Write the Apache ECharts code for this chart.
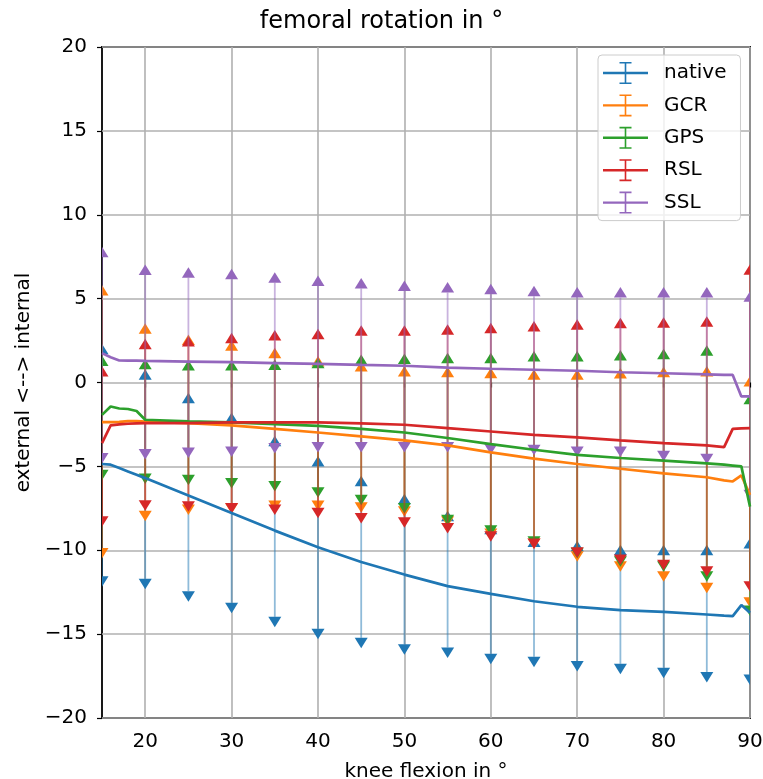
<!DOCTYPE html>
<html>
<head>
<meta charset="utf-8">
<title>femoral rotation</title>
<script src="https://cdn.jsdelivr.net/npm/echarts@6/dist/echarts.min.js"></script>
<style>
  html, body { margin: 0; padding: 0; background: #fff; }
  #chart { width: 763px; height: 779px; }
</style>
</head>
<body>
<div id="chart"></div>
<script>
// knee flexion angles where the error bars sit
const barX = [15, 20, 25, 30, 35, 40, 45, 50, 55, 60, 65, 70, 75, 80, 85, 90];

// error bar ends (upper / lower) per implant
const nativeHi = [1.69, 0.16, -1.23, -2.42, -3.8, -5.0, -6.19, -7.26, -8.27, -9.05, -9.8, -10.06, -10.3, -10.3, -10.3, -9.9];
const nativeLo = [-11.55, -11.7, -12.44, -13.13, -13.97, -14.68, -15.22, -15.6, -15.8, -16.17, -16.35, -16.6, -16.77, -17.0, -17.26, -17.4];
const gcrHi = [5.18, 2.9, 2.24, 1.89, 1.45, 0.95, 0.65, 0.36, 0.32, 0.26, 0.16, 0.16, 0.24, 0.32, 0.36, -0.24];
const gcrLo = [-9.86, -7.64, -7.28, -7.2, -7.04, -7.04, -7.14, -7.38, -7.98, -8.7, -9.3, -10.06, -10.65, -11.25, -11.94, -12.8];
const gpsHi = [0.99, 0.79, 0.71, 0.71, 0.75, 0.85, 1.05, 1.11, 1.15, 1.15, 1.25, 1.25, 1.31, 1.39, 1.59, -1.3];
const gpsLo = [-5.2, -5.43, -5.5, -5.7, -5.87, -6.25, -6.69, -7.18, -7.88, -8.51, -9.17, -9.85, -10.36, -10.65, -11.25, -13.3];
const rslHi = [0.36, 1.98, 2.14, 2.34, 2.5, 2.58, 2.78, 2.78, 2.84, 2.94, 3.04, 3.14, 3.23, 3.27, 3.33, 6.43];
const rslLo = [-7.98, -7.02, -7.08, -7.18, -7.28, -7.46, -7.78, -8.04, -8.37, -8.87, -9.3, -9.82, -10.26, -10.56, -10.95, -11.85];
const sslHi = [7.46, 6.41, 6.25, 6.15, 5.95, 5.75, 5.61, 5.46, 5.36, 5.26, 5.14, 5.06, 5.06, 5.06, 5.06, 4.82];
const sslLo = [-4.2, -3.97, -3.87, -3.81, -3.6, -3.55, -3.55, -3.55, -3.55, -3.67, -3.71, -3.81, -3.81, -4.07, -4.25, -6.4];

// mean curves
const lineX = [15, 16, 17, 18, 19, 20, 25, 30, 35, 40, 45, 50, 55, 60, 65, 70, 75, 80, 85, 87, 88, 89, 90];
const nativeMean = [-4.86, -4.9, -5.1, -5.3, -5.5, -5.7, -6.73, -7.78, -8.83, -9.82, -10.7, -11.45, -12.14, -12.6, -13.04, -13.37, -13.57, -13.67, -13.83, -13.9, -13.93, -13.27, -13.73];
const gcrMean = [-2.36, -2.36, -2.35, -2.3, -2.3, -2.33, -2.42, -2.56, -2.76, -2.98, -3.21, -3.45, -3.75, -4.17, -4.54, -4.86, -5.14, -5.42, -5.65, -5.83, -5.9, -5.54, -6.7];
const gpsMean = [-1.93, -1.43, -1.55, -1.58, -1.7, -2.22, -2.32, -2.38, -2.48, -2.58, -2.76, -2.98, -3.31, -3.67, -4.01, -4.31, -4.5, -4.66, -4.82, -4.9, -4.95, -5.0, -7.4];
const rslMean = [-3.61, -2.56, -2.5, -2.46, -2.44, -2.42, -2.42, -2.38, -2.38, -2.38, -2.44, -2.52, -2.72, -2.92, -3.12, -3.27, -3.45, -3.61, -3.75, -3.85, -2.76, -2.74, -2.72];
const sslMean = [1.75, 1.5, 1.31, 1.3, 1.3, 1.29, 1.25, 1.21, 1.16, 1.11, 1.05, 1.0, 0.89, 0.82, 0.76, 0.7, 0.61, 0.55, 0.49, 0.46, 0.45, -0.83, -0.83];

const xTicks = [20, 30, 40, 50, 60, 70, 80, 90];

const models = [
  { name: 'native', color: '#1f77b4', hi: nativeHi, lo: nativeLo, mean: nativeMean },
  { name: 'GCR', color: '#ff7f0e', hi: gcrHi, lo: gcrLo, mean: gcrMean },
  { name: 'GPS', color: '#2ca02c', hi: gpsHi, lo: gpsLo, mean: gpsMean },
  { name: 'RSL', color: '#d62728', hi: rslHi, lo: rslLo, mean: rslMean },
  { name: 'SSL', color: '#9467bd', hi: sslHi, lo: sslLo, mean: sslMean }
];

const FONT = 'DejaVu Sans';
// errorbar legend handle: thick horizontal line + capped vertical bar
const errIcon = 'path://M0,9.8L45,9.8L45,12.2L0,12.2Z M21.7,0L23.3,0L23.3,22L21.7,22Z M16.5,0L28.5,0L28.5,1.6L16.5,1.6Z M16.5,20.4L28.5,20.4L28.5,22L16.5,22Z';

function minusFmt(v) {
  return v < 0 ? '\u2212' + Math.abs(v) : String(v);
}

function errorBarRenderer(color) {
  return function (params, api) {
    const x = api.value(0);
    const lo = api.value(1);
    const hi = api.value(2);
    const top = api.coord([x, hi]);
    const bot = api.coord([x, lo]);
    const w = 6.5, h = 10.5;
    return {
      type: 'group',
      children: [
        {
          type: 'line',
          shape: { x1: top[0], y1: top[1], x2: bot[0], y2: bot[1] },
          style: { stroke: color, lineWidth: 1.8, opacity: 0.5 }
        },
        {
          type: 'polygon',
          shape: { points: [[top[0] - w, top[1]], [top[0] + w, top[1]], [top[0], top[1] - h]] },
          style: { fill: color }
        },
        {
          type: 'polygon',
          shape: { points: [[bot[0] - w, bot[1]], [bot[0] + w, bot[1]], [bot[0], bot[1] + h]] },
          style: { fill: color }
        }
      ]
    };
  };
}

const barSeries = models.map(m => ({
  name: m.name,
  type: 'custom',
  clip: true,
  z: 2,
  itemStyle: { color: m.color },
  encode: { x: 0, y: [1, 2] },
  data: barX.map((x, i) => [x, m.lo[i], m.hi[i]]),
  renderItem: errorBarRenderer(m.color)
}));

const lineSeries = models.map(m => ({
  name: m.name,
  type: 'line',
  clip: true,
  z: 3,
  showSymbol: false,
  symbol: 'none',
  color: m.color,
  lineStyle: { color: m.color, width: 2.7 },
  data: lineX.map((x, i) => [x, m.mean[i]])
}));

const chart = echarts.init(document.getElementById('chart'));
chart.setOption({
  animation: false,
  backgroundColor: '#fff',
  textStyle: { fontFamily: FONT },
  title: {
    text: 'femoral rotation in °',
    left: 'center',
    top: 5,
    textStyle: { fontFamily: FONT, fontSize: 24, fontWeight: 'normal', color: '#000' }
  },
  legend: {
    orient: 'vertical',
    left: 598,
    top: 55,
    padding: [7, 14, 7, 5],
    itemWidth: 45,
    itemHeight: 22,
    itemGap: 10.4,
    backgroundColor: 'rgba(255,255,255,0.8)',
    borderColor: '#cccccc',
    borderWidth: 1,
    borderRadius: 4,
    textStyle: { fontFamily: FONT, fontSize: 20, color: '#000', padding: [0, 0, 0, 11] },
    data: models.map(m => ({ name: m.name, icon: errIcon, itemStyle: { color: m.color } }))
  },
  grid: {
    left: 102,
    right: 13,
    top: 47,
    bottom: 61,
    outerBoundsMode: 'none',
    containLabel: false,
    show: true,
    borderColor: '#000',
    borderWidth: 1.8,
    backgroundColor: 'transparent'
  },
  xAxis: {
    type: 'value',
    min: 15,
    max: 90,
    splitNumber: 8,
    name: 'knee flexion in °',
    nameLocation: 'middle',
    nameGap: 44,
    nameTextStyle: { fontFamily: FONT, fontSize: 20, color: '#000' },
    axisLine: { show: false },
    axisTick: { show: true, length: 5, customValues: xTicks, lineStyle: { color: '#000', width: 1.2 } },
    axisLabel: {
      customValues: xTicks,
      margin: 14,
      fontFamily: FONT,
      fontSize: 20,
      color: '#000'
    },
    splitLine: { show: true, lineStyle: { color: '#b0b0b0', width: 1.6 } }
  },
  yAxis: {
    type: 'value',
    min: -20,
    max: 20,
    interval: 5,
    name: 'external <--> internal',
    nameLocation: 'middle',
    nameGap: 68,
    nameTextStyle: { fontFamily: FONT, fontSize: 20, color: '#000' },
    axisLine: { show: false },
    axisTick: { show: true, length: 5, lineStyle: { color: '#000', width: 1.2 } },
    axisLabel: {
      margin: 15,
      fontFamily: FONT,
      fontSize: 20,
      color: '#000',
      formatter: minusFmt
    },
    splitLine: { show: true, lineStyle: { color: '#b0b0b0', width: 1.6 } }
  },
  series: barSeries.concat(lineSeries)
});
</script>
</body>
</html>
